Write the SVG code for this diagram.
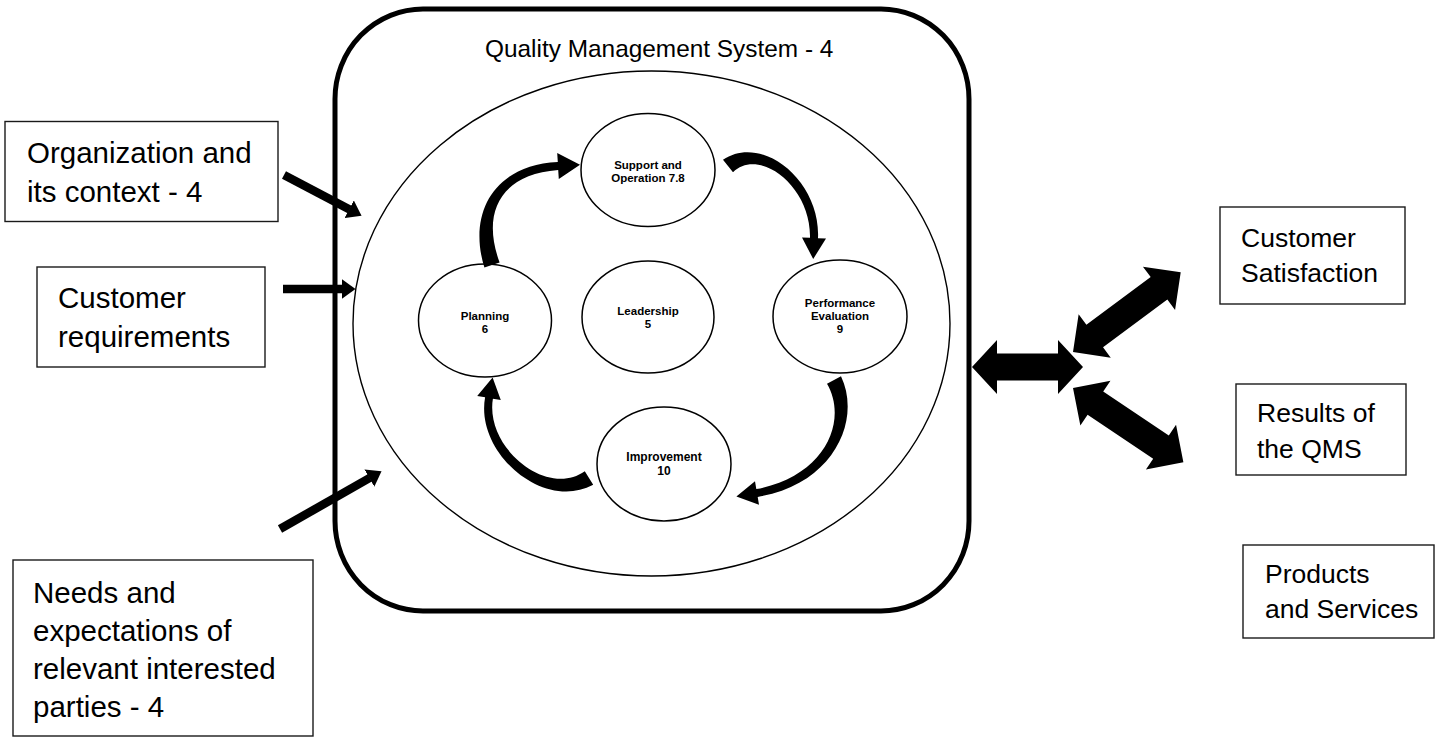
<svg xmlns="http://www.w3.org/2000/svg" width="1437" height="738" viewBox="0 0 1437 738">
<defs>
<style>
.box{fill:#fff;stroke:#1a1a1a;stroke-width:1.4}
.lbl{font-family:"Liberation Sans",Arial,sans-serif;fill:#000}
.big{font-size:29.5px}
.med{font-size:26.5px}
.ttl{font-size:24.4px}
.node{fill:#fff;stroke:#000;stroke-width:1.5}
.ntx{font-family:"Liberation Sans",Arial,sans-serif;font-weight:bold;font-size:11.5px;fill:#000;text-anchor:middle}
.line{stroke:#000;fill:none;stroke-width:8.5}
.solid{fill:#000;stroke:none}
</style>
<marker id="head" viewBox="0 0 14 20" refX="0.5" refY="10" markerWidth="14" markerHeight="20" markerUnits="userSpaceOnUse" orient="auto">
<path d="M0,0 L14,10 L0,20 Z" fill="#000"/>
</marker>
</defs>
<rect width="1437" height="738" fill="#fff"/>

<g id="qms-boundary">
<rect x="335" y="9" width="634" height="602" rx="88" ry="90" fill="none" stroke="#000" stroke-width="5"/>
<text class="lbl ttl" x="485" y="57">Quality Management System - 4</text>
</g>

<g id="qms-core">
<ellipse cx="651.5" cy="323.5" rx="298.5" ry="252.5" fill="none" stroke="#000" stroke-width="1.4"/>
</g>

<g id="node-support">
<ellipse class="node" cx="648" cy="170" rx="67" ry="56.5"/>
<text class="ntx" x="648" y="169">Support and</text>
<text class="ntx" x="648" y="182">Operation 7.8</text>
</g>
<g id="node-planning">
<ellipse class="node" cx="485" cy="320.5" rx="66.5" ry="56.5"/>
<text class="ntx" x="485" y="320">Planning</text>
<text class="ntx" x="485" y="333">6</text>
</g>
<g id="node-leadership">
<ellipse class="node" cx="648" cy="317" rx="66" ry="56"/>
<text class="ntx" x="648" y="315">Leadership</text>
<text class="ntx" x="648" y="328">5</text>
</g>
<g id="node-performance">
<ellipse class="node" cx="840" cy="316.5" rx="67" ry="56.5"/>
<text class="ntx" x="840" y="307">Performance</text>
<text class="ntx" x="840" y="320">Evaluation</text>
<text class="ntx" x="840" y="333">9</text>
</g>
<g id="node-improvement">
<ellipse class="node" cx="664" cy="464" rx="67" ry="57"/>
<text class="ntx" x="664" y="461" style="font-size:12px">Improvement</text>
<text class="ntx" x="664" y="475" style="font-size:12px">10</text>
</g>

<g id="box-organization">
<rect class="box" x="5" y="121.5" width="273" height="100"/>
<text class="lbl big" x="27" y="163">Organization and</text>
<text class="lbl big" x="27" y="202">its context - 4</text>
</g>
<g id="box-customer-req">
<rect class="box" x="37" y="267" width="228" height="100"/>
<text class="lbl big" x="58" y="308">Customer</text>
<text class="lbl big" x="58" y="347">requirements</text>
</g>
<g id="box-needs">
<rect class="box" x="13" y="560" width="300" height="176"/>
<text class="lbl big" x="33" y="603">Needs and</text>
<text class="lbl big" x="33" y="641">expectations of</text>
<text class="lbl big" x="33" y="679">relevant interested</text>
<text class="lbl big" x="33" y="717">parties - 4</text>
</g>
<g id="box-satisfaction">
<rect class="box" x="1220" y="207" width="185" height="97"/>
<text class="lbl med" x="1241" y="247">Customer</text>
<text class="lbl med" x="1241" y="282">Satisfaction</text>
</g>
<g id="box-results">
<rect class="box" x="1236" y="384" width="170" height="91"/>
<text class="lbl med" x="1257" y="422">Results of</text>
<text class="lbl med" x="1257" y="458">the QMS</text>
</g>
<g id="box-products">
<rect class="box" x="1243" y="545" width="191" height="93"/>
<text class="lbl med" x="1265" y="583">Products</text>
<text class="lbl med" x="1265" y="618">and Services</text>
</g>

<g id="connectors">
<line class="line" x1="284" y1="175" x2="349.6" y2="209.5" marker-end="url(#head)"/>
<line class="line" x1="283" y1="289" x2="342" y2="289" marker-end="url(#head)"/>
<line class="line" x1="280" y1="529" x2="369.8" y2="477.9" marker-end="url(#head)"/>

<path class="solid" d="M484.4,267.6 C468,214.8 492.2,165.3 557.8,162 L557.2,153 L580,164.7 L558.8,179 L558.2,170 C497.8,174.7 482,215.2 499.6,262.4 Z"/>
<path class="solid" d="M723,159.8 C761.4,133.1 820.8,180.4 818,238.2 L826,238.5 L813.2,259 L802,237.5 L810,237.8 C811.2,185.6 758.6,146.9 733,172.2 Z"/>
<path class="solid" d="M841,376.3 C862,420.3 833.3,484.4 757.7,496.9 L759,504.8 L736.4,496.6 L755,481.2 L756.3,489.1 C826.7,475.6 848,419.7 827,383.7 Z"/>
<path class="solid" d="M593.2,484.8 C543.25,511.8 475.1,452.5 485.1,397.3 L477.2,396 L492.6,377.4 L500.8,400 L492.9,398.7 C484.9,447.5 546.75,498.2 584.8,471.2 Z"/>

<polygon class="solid" transform="translate(972,367)" points="0,0 25,-27 25,-13.5 86,-13.5 86,-27 111,0 86,27 86,13.5 25,13.5 25,27"/>
<polygon class="solid" transform="translate(1073,352) rotate(-36.5)" points="0,0 27,-27 27,-14 107,-14 107,-27 134,0 107,27 107,14 27,14 27,27"/>
<polygon class="solid" transform="translate(1073,388) rotate(33.9)" points="0,0 27,-27 27,-14 106,-14 106,-27 133,0 106,27 106,14 27,14 27,27"/>
</g>
</svg>
